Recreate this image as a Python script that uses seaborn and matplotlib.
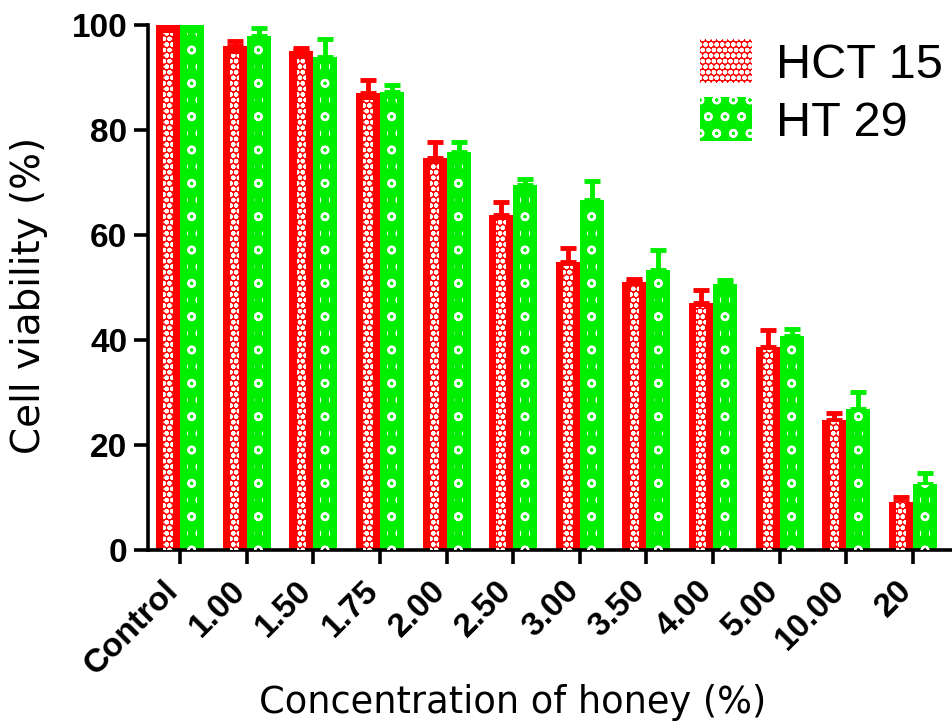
import numpy as np
import pandas as pd
import matplotlib
matplotlib.use("Agg")
import matplotlib.pyplot as plt
from matplotlib.patches import Rectangle, Patch
import seaborn as sns

# Cell viability after honey treatment (mean and upper SD)
concentrations = ["Control", "1.00", "1.50", "1.75", "2.00", "2.50",
                  "3.00", "3.50", "4.00", "5.00", "10.00", "20"]
hct15 = [100, 96.0, 95.0, 87.0, 74.6, 63.8, 54.9, 51.0, 47.0, 38.7, 24.8, 9.2]
hct15_sd = [0, 1.0, 0.6, 2.5, 3.2, 2.5, 2.6, 0.6, 2.5, 3.2, 1.2, 0.9]
ht29 = [100, 98.0, 94.0, 87.2, 75.9, 69.5, 66.6, 53.3, 50.7, 40.8, 26.8, 12.6]
ht29_sd = [0, 1.4, 3.3, 1.3, 1.8, 1.2, 3.6, 3.8, 0.8, 1.2, 3.2, 2.1]
lines = ["HCT 15", "HT 29"]
colors = {"HCT 15": "#ff0000", "HT 29": "#00ee00"}
hatches = {"HCT 15": "ooo", "HT 29": "o"}

df = pd.DataFrame({
    "conc": concentrations * 2,
    "viability": hct15 + ht29,
    "line": ["HCT 15"] * len(concentrations) + ["HT 29"] * len(concentrations),
})
sds = {"HCT 15": hct15_sd, "HT 29": ht29_sd}

sns.set_style("ticks")
plt.rcParams.update({
    "hatch.linewidth": 1.6,
    "text.color": "black",
    "axes.labelcolor": "black",
    "xtick.color": "black",
    "ytick.color": "black",
    "axes.edgecolor": "black",
})

fig = plt.figure(figsize=(9.52, 7.25), dpi=100)
ax = fig.add_axes([0.1555, 0.2414, 0.8445, 0.7241])

sns.barplot(data=df, x="conc", y="viability", hue="line", order=concentrations,
            hue_order=lines, palette=colors, errorbar=None, width=0.72, gap=0,
            saturation=1, linewidth=0, legend=False, ax=ax)

for line, container in zip(lines, ax.containers):
    xs, ys = [], []
    for bar in container:
        x0, w, h = bar.get_x(), bar.get_width(), bar.get_height()
        xs.append(x0 + w / 2)
        ys.append(h)
        # white textured stripe down the middle of each bar
        ax.add_patch(Rectangle((x0 + w * 0.3, 0), w * 0.4, h * 0.985,
                               facecolor="none", edgecolor="white", lw=0,
                               hatch=hatches[line], zorder=3))
    sd = np.array(sds[line])
    ax.errorbar(xs, ys, yerr=[np.zeros_like(sd), sd], fmt="none",
                ecolor=colors[line], elinewidth=3.5, capsize=6, capthick=3.5,
                zorder=2)

ax.set_ylim(0, 100)
ax.set_xlim(-0.48, 11.585)
ax.set_yticks([0, 20, 40, 60, 80, 100])

for s in ["top", "right"]:
    ax.spines[s].set_visible(False)
for s in ["left", "bottom"]:
    ax.spines[s].set_linewidth(2.6)
ax.tick_params(axis="both", length=10, width=2.6, color="black")
ax.tick_params(axis="y", pad=5)
ax.tick_params(axis="x", pad=20)

for lab in ax.get_yticklabels():
    lab.set_fontfamily("Liberation Sans")
    lab.set_fontweight("bold")
    lab.set_fontsize(24)
ax.set_xticks(range(len(concentrations)))
ax.set_xticklabels(concentrations, rotation=45, ha="right", va="baseline",
                   rotation_mode="anchor", fontfamily="Liberation Sans",
                   fontweight="bold", fontsize=24)

ax.set_xlabel("Concentration of honey (%)", fontfamily="DejaVu Sans", fontsize=26.5)
ax.set_ylabel("Cell viability (%)", fontfamily="DejaVu Sans", fontsize=28)
ax.xaxis.set_label_coords(0.454, -0.255)
ax.yaxis.set_label_coords(-0.125, 0.484)

handles = [Patch(facecolor=colors[l], edgecolor="white", lw=0, hatch=hatches[l])
           for l in lines]
fig.legend(handles, lines, loc="upper left", bbox_to_anchor=(0.735, 0.946),
           frameon=False, borderpad=0, borderaxespad=0, handlelength=1.07,
           handleheight=1.0, handletextpad=0.5, labelspacing=0.2,
           prop={"family": "Liberation Sans", "size": 35})

fig.savefig("out.png", dpi=100)
